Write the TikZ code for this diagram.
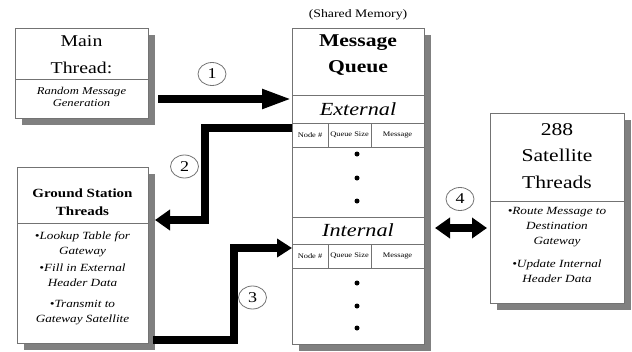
\documentclass[tikz,border=0pt]{standalone}
\usepackage{fontspec}
\setmainfont{Liberation Serif}[FakeStretch=1.2]
\usetikzlibrary{arrows.meta,shadows,shapes.geometric}
\begin{document}
\begin{tikzpicture}[x=1pt,y=-1pt,
  box/.style={draw=black!55, line width=1pt, fill=white, inner sep=0pt, anchor=north west,
    drop shadow={shadow xshift=6pt, shadow yshift=-6pt, fill=black!50, opacity=1}},
  rule/.style={draw=black!55, line width=1pt},
  txt/.style={inner sep=0pt, align=center},
  bigtitle/.style={txt, font=\fontsize{16.5}{27}\selectfont},
  boldtitle/.style={txt, font=\bfseries\fontsize{18}{26}\selectfont},
  section/.style={txt, font=\itshape\fontsize{18.5}{22}\selectfont},
  note/.style={txt, font=\itshape\fontsize{10.5}{12}\selectfont},
  bullet/.style={txt, font=\itshape\fontsize{11}{15}\selectfont},
  cell/.style={txt, font=\fontsize{7}{8}\selectfont},
  dot/.style={circle, fill=black, inner sep=0pt, minimum size=5pt},
  num/.style={ellipse, draw=black!55, line width=0.8pt, minimum width=28pt, minimum height=23pt,
    inner sep=0pt, font=\fontsize{15}{16}\selectfont},
  bigarrow/.style={draw=black, line width=8pt, line join=miter}
]
\useasboundingbox (0,0) rectangle (632,351);

% ---------- boxes ----------
\node[box, minimum width=133pt, minimum height=90pt] (main) at (15,28) {};
\node[box, minimum width=132pt, minimum height=316pt] (queue) at (292,28) {};
\node[box, minimum width=131pt, minimum height=176pt] (ground) at (17,167) {};
\node[box, minimum width=134pt, minimum height=190pt] (sat) at (490,113) {};

% ---------- main thread ----------
\draw[rule] (15,79) -- (148,79);
\node[bigtitle] (mainT) at (81.5,54.5) {Main\\Thread:};
\node[note] (mainN) at (81.5,97) {Random Message\\Generation};

% ---------- message queue ----------
\node[txt, font=\fontsize{11.5}{13}\selectfont] (shared) at (358,15) {(Shared Memory)};
\node[boldtitle] (queueT) at (358,55) {Message\\Queue};
\draw[rule] (292,95) -- (424,95);
\node[section] (ext) at (358,109) {External};
\draw[rule] (292,123) -- (424,123);
\draw[rule] (292,147) -- (424,147);
\draw[rule] (328,123) -- (328,147);
\draw[rule] (371,123) -- (371,147);
\node[cell] (extC1) at (310,135) {Node \#};
\node[cell] (extC2) at (349.5,135) {Queue Size};
\node[cell] (extC3) at (397.5,135) {Message};
\node[dot] (ed1) at (357,154) {};
\node[dot] (ed2) at (357,178) {};
\node[dot] (ed3) at (357,201) {};
\draw[rule] (292,217) -- (424,217);
\node[section] (int) at (358,230) {Internal};
\draw[rule] (292,244) -- (424,244);
\draw[rule] (292,268) -- (424,268);
\draw[rule] (328,244) -- (328,268);
\draw[rule] (371,244) -- (371,268);
\node[cell] (intC1) at (310,256) {Node \#};
\node[cell] (intC2) at (349.5,256) {Queue Size};
\node[cell] (intC3) at (397.5,256) {Message};
\node[dot] (id1) at (357,283) {};
\node[dot] (id2) at (357,306) {};
\node[dot] (id3) at (357,328) {};

% ---------- ground station threads ----------
\draw[rule] (17,223) -- (148,223);
\node[txt, font=\bfseries\fontsize{12.5}{18}\selectfont] (groundT) at (82.5,202) {Ground Station\\Threads};
\node[bullet] (gb1) at (82.5,244.5) {•Lookup Table for\\Gateway};
\node[bullet] (gb2) at (82.5,275.5) {•Fill in External\\Header Data};
\node[bullet] (gb3) at (82.5,313) {•Transmit to\\Gateway Satellite};

% ---------- satellite threads ----------
\draw[rule] (490,201) -- (624,201);
\node[txt, font=\fontsize{18}{26.5}\selectfont] (satT) at (557,156) {288\\Satellite\\Threads};
\node[bullet] (sb1) at (557,227) {•Route Message to\\Destination\\Gateway};
\node[bullet] (sb2) at (557,271.5) {•Update Internal\\Header Data};

% ---------- connectors ----------
\coordinate (a1s) at (158,99);
\coordinate (a2b) at (205,128);
\coordinate (a2c) at (205,220);
\coordinate (a2e) at (155,220);
\coordinate (a3s) at (153,340);
\coordinate (a3b) at (234,340);
\coordinate (a3c) at (234,248);
\coordinate (a4s) at (435,228);
\coordinate (a4e) at (487,228);

\draw[bigarrow, -{Triangle[length=30pt,width=18pt]}] (a1s) -- (queue.west |- a1s);
\draw[bigarrow, -{Triangle[length=15pt,width=20pt]}] (queue.west |- a2b) -- (a2b) -- (a2c) -- (a2e);
\draw[bigarrow, -{Triangle[length=15pt,width=18pt]}] (a3s) -- (a3b) -- (a3c) -- (queue.west |- a3c);
\draw[bigarrow, {Triangle[length=15pt,width=20pt]}-{Triangle[length=15pt,width=20pt]}] (a4s) -- (a4e);

\node[num] (n1) at (212,74) {1};
\node[num] (n2) at (184.5,166.5) {2};
\node[num] (n3) at (252.5,297.5) {3};
\node[num] (n4) at (460,199) {4};
\end{tikzpicture}
\end{document}
